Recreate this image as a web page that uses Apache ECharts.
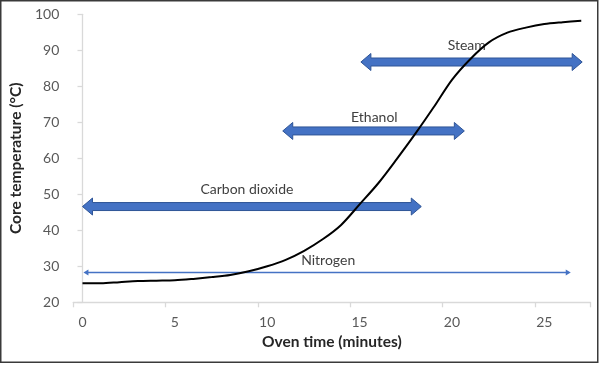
<!DOCTYPE html>
<html>
<head>
<meta charset="utf-8">
<script src="https://cdn.jsdelivr.net/npm/echarts@6/dist/echarts.min.js"></script>
<style>html,body{margin:0;padding:0;background:#fff}#c{width:600px;height:365px}</style>
</head>
<body>
<div id="c"></div>
<script>
// Oven time categories (minutes)
const minutes = ['0','1','2','3','4','5','6','7','8','9','10','11','12','13','14','15','16','17','18','19','20','21','22','23','24','25','26','27'];
// Core temperature (°C)
const coreTemp = [25.3,25.3,25.6,25.9,26.0,26.1,26.5,27.0,27.6,28.6,30.0,31.8,34.3,37.5,41.5,47.2,53.0,59.7,66.7,74.1,81.8,87.6,92.2,94.9,96.3,97.3,97.8,98.2];
// Phase arrows
const arrowNames = ['Steam','Ethanol','Carbon dioxide','Nitrogen'];
const arrowStart = [15.07,10.84,0.0,0.05];
const arrowEnd = [27.05,20.67,18.34,26.43];
const arrowLevel = [86.75,67.6,46.6,28.3];
const labelX = [20.8,15.8,8.9,13.3];
const labelY = [91.3,71.4,51.2,31.75];
const yTicks = [20,30,40,50,60,70,80,90,100];

const thinArrows = {'Nitrogen': true};
const arrowData = arrowNames.map((n,i)=>[arrowStart[i],arrowEnd[i],arrowLevel[i],labelX[i],labelY[i],i]);

const chart = echarts.init(document.getElementById('c'), null, {renderer:'canvas'});
const axisGray = '#d9d9d9';
const textGray = '#595959';
const FONT = 'Lato, "Open Sans", sans-serif';

chart.setOption({
  backgroundColor:'#fff',
  animation:false,
  grid:{left:72, right:9.5, top:14.3, bottom:62.7},
  xAxis:[{
    type:'category', data:minutes, boundaryGap:true,
    name:'Oven time (minutes)', nameLocation:'middle', nameGap:32,
    nameTextStyle:{fontFamily:FONT, fontSize:15.5, fontWeight:'bold', color:'#262626'},
    axisLine:{lineStyle:{color:axisGray, width:1.3}},
    axisTick:{show:true, interval:4, length:5, lineStyle:{color:axisGray, width:1.3}},
    axisLabel:{interval:4, margin:13, fontFamily:FONT, fontSize:14, color:textGray},
    splitLine:{show:false}
  },{
    type:'value', min:-0.5, max:27.5, show:false
  }],
  yAxis:{
    type:'value', min:yTicks[0], max:yTicks[yTicks.length-1], interval:10,
    name:'Core temperature (°C)', nameLocation:'middle', nameGap:42,
    nameTextStyle:{fontFamily:FONT, fontSize:15.5, fontWeight:'bold', color:'#262626'},
    axisLine:{show:true, lineStyle:{color:axisGray, width:1.3}},
    axisTick:{show:true, length:5, lineStyle:{color:axisGray, width:1.3}},
    axisLabel:{margin:14, fontFamily:FONT, fontSize:14, color:textGray},
    splitLine:{show:false}
  },
  series:[{
    type:'custom', xAxisIndex:1, yAxisIndex:0, z:2, clip:false,
    data:arrowData,
    encode:{x:[0,1], y:2},
    renderItem:function(params, api){
      const i = api.value(5);
      const name = arrowNames[i];
      const p0 = api.coord([api.value(0), api.value(2)]);
      const p1 = api.coord([api.value(1), api.value(2)]);
      const lp = api.coord([api.value(3), api.value(4)]);
      const y = p0[1], x0 = p0[0], x1 = p1[0];
      const children = [];
      if (thinArrows[name]) {
        const hl = 5, hh = 3;
        children.push({type:'line', shape:{x1:x0+hl-1, y1:y, x2:x1-hl+1, y2:y}, style:{stroke:'#4472C4', lineWidth:1.5}});
        children.push({type:'polygon', shape:{points:[[x0,y],[x0+hl,y-hh],[x0+hl,y+hh]]}, style:{fill:'#4472C4'}});
        children.push({type:'polygon', shape:{points:[[x1,y],[x1-hl,y-hh],[x1-hl,y+hh]]}, style:{fill:'#4472C4'}});
      } else {
        const sh = 4, hh = 8.5, hl = 10;
        children.push({type:'polygon', shape:{points:[
          [x0,y],[x0+hl,y-hh],[x0+hl,y-sh],[x1-hl,y-sh],[x1-hl,y-hh],[x1,y],
          [x1-hl,y+hh],[x1-hl,y+sh],[x0+hl,y+sh],[x0+hl,y+hh]
        ]}, style:{fill:'#4472C4', stroke:'#2F5597', lineWidth:1}});
      }
      children.push({type:'text', x:lp[0], y:lp[1], style:{text:name, align:'center', verticalAlign:'middle', font:'14px '+FONT, fill:'#404040'}});
      return {type:'group', children:children};
    }
  },{
    type:'line', xAxisIndex:0, yAxisIndex:0, z:3,
    data:coreTemp, smooth:0.3, symbol:'none',
    lineStyle:{color:'#000', width:2}
  }],
  graphic:[{
    type:'rect', shape:{x:0.75, y:0.75, width:597, height:361.5},
    style:{fill:null, stroke:'#3a3a3a', lineWidth:1.5}, silent:true, z:100
  }]
});
</script>
</body>
</html>
